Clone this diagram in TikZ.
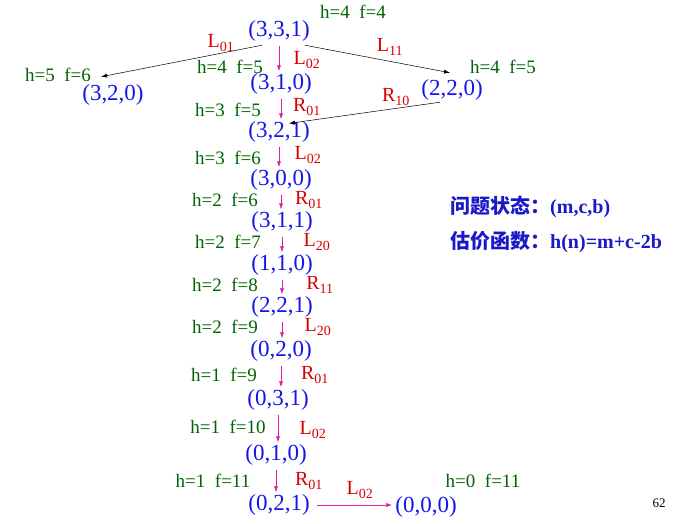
\documentclass[tikz,border=0pt]{standalone}
\usepackage{fontspec}
\setmainfont{Liberation Serif}
\newfontfamily\cjk{Noto Sans CJK SC}
\usetikzlibrary{arrows.meta}
\definecolor{stblue}{RGB}{20,20,235}
\definecolor{hfgreen}{RGB}{0,100,0}
\definecolor{opred}{RGB}{215,0,0}
\definecolor{mvpink}{RGB}{225,30,150}
\definecolor{txtblue}{RGB}{25,25,200}
\tikzset{
    st/.style={text=stblue, font=\fontsize{23}{23}\selectfont, inner sep=0pt},
    hf/.style={text=hfgreen, font=\fontsize{19}{19}\selectfont, inner sep=0pt},
    op/.style={text=opred, font=\fontsize{20}{20}\selectfont, inner sep=0pt},
    mv/.style={draw=mvpink, line width=0.6pt, -{Latex[length=6pt,width=4pt]},
        shorten <=4pt, shorten >=2pt},
    tr/.style={draw=black, line width=0.5pt, -{Latex[length=6pt,width=4pt]}},
}

\begin{document}
\begin{tikzpicture}[x=1pt, y=-1pt]
    \useasboundingbox (0,0) rectangle (681,524);

    % states
    \node[st] (0) at (279,31) {(3,3,1)};
    \node[st] (1) at (113,95) {(3,2,0)};
    \node[st] (2) at (281,84) {(3,1,0)};
    \node[st] (3) at (452,90) {(2,2,0)};
    \node[st] (4) at (279,132) {(3,2,1)};
    \node[st] (5) at (281,180) {(3,0,0)};
    \node[st] (6) at (282,222) {(3,1,1)};
    \node[st] (7) at (282,265) {(1,1,0)};
    \node[st] (8) at (282,307) {(2,2,1)};
    \node[st] (9) at (281,351) {(0,2,0)};
    \node[st] (10) at (278,400) {(0,3,1)};
    \node[st] (11) at (276,455) {(0,1,0)};
    \node[st] (12) at (279,505) {(0,2,1)};
    \node[st] (13) at (426,507) {(0,0,0)};

    % h and f values
    \node[hf] (hf0) at (353,12) {h=4\ \ f=4};
    \node[hf] (hf1) at (58,75) {h=5\ \ f=6};
    \node[hf] (hf2) at (230,67) {h=4\ \ f=5};
    \node[hf] (hf3) at (503,67) {h=4\ \ f=5};
    \node[hf] (hf4) at (228,110) {h=3\ \ f=5};
    \node[hf] (hf5) at (228,158) {h=3\ \ f=6};
    \node[hf] (hf6) at (225,200) {h=2\ \ f=6};
    \node[hf] (hf7) at (228,242) {h=2\ \ f=7};
    \node[hf] (hf8) at (225,285) {h=2\ \ f=8};
    \node[hf] (hf9) at (225,327) {h=2\ \ f=9};
    \node[hf] (hf10) at (224,375) {h=1\ \ f=9};
    \node[hf] (hf11) at (228,427) {h=1\ \ f=10};
    \node[hf] (hf12) at (213,481) {h=1\ \ f=11};
    \node[hf] (hf13) at (483,481) {h=0\ \ f=11};

    % moves
    \node[op] (m1) at (221,43) {L\textsubscript{01}};
    \node[op] (m2) at (307,60) {L\textsubscript{02}};
    \node[op] (m3) at (390,47) {L\textsubscript{11}};
    \node[op] (m4) at (396,97) {R\textsubscript{10}};
    \node[op] (m5) at (307,107) {R\textsubscript{01}};
    \node[op] (m6) at (308,155) {L\textsubscript{02}};
    \node[op] (m7) at (309,200) {R\textsubscript{01}};
    \node[op] (m8) at (317,242) {L\textsubscript{20}};
    \node[op] (m9) at (320,285) {R\textsubscript{11}};
    \node[op] (m10) at (318,327) {L\textsubscript{20}};
    \node[op] (m11) at (315,375) {R\textsubscript{01}};
    \node[op] (m12) at (313,430) {L\textsubscript{02}};
    \node[op] (m13) at (309,481) {R\textsubscript{01}};
    \node[op] (m14) at (360,490) {L\textsubscript{02}};

    % legend
    \node[anchor=west, inner sep=0pt, text=txtblue, font=\fontsize{20}{20}\selectfont\bfseries]
        (q) at (450,207) {{\cjk 问题状态：}(m,c,b)};
    \node[anchor=west, inner sep=0pt, text=txtblue, font=\fontsize{20}{20}\selectfont\bfseries]
        (g) at (450,242) {{\cjk 估价函数：}h(n)=m+c-2b};
    \node[inner sep=0pt, font=\fontsize{13}{13}\selectfont] (pg) at (659,503) {62};

    \draw[tr] ([xshift=-17pt,yshift=-3.6pt]0.south) -- ([xshift=-12pt,yshift=7.6pt]1.north);
    \draw[tr] ([xshift=26pt,yshift=-3.6pt]0.south) -- ([xshift=-2pt,yshift=6.6pt]3.north);
    \draw[tr] ([xshift=-12pt,yshift=-1.6pt]3.south) -- ([xshift=10pt,yshift=-2pt]4.north);

    \draw[mv] (0.south) -- (2.north -| 0.south);
    \draw[mv] (2.south) -- (4.north -| 2.south);
    \draw[mv] (4.south) -- (5.north -| 4.south);
    \draw[mv] (5.south) -- (6.north -| 5.south);
    \draw[mv] (6.south) -- (7.north -| 6.south);
    \draw[mv] (7.south) -- (8.north -| 7.south);
    \draw[mv] (8.south) -- (9.north -| 8.south);
    \draw[mv] (9.south) -- (10.north -| 9.south);
    \draw[mv] (10.south) -- (11.north -| 10.south);
    \draw[mv] (11.south) -- (12.north -| 11.south);
    \draw[mv, shorten <=7pt, shorten >=3pt] (12.east) -- (13.west |- 12.east);
\end{tikzpicture}
\end{document}
